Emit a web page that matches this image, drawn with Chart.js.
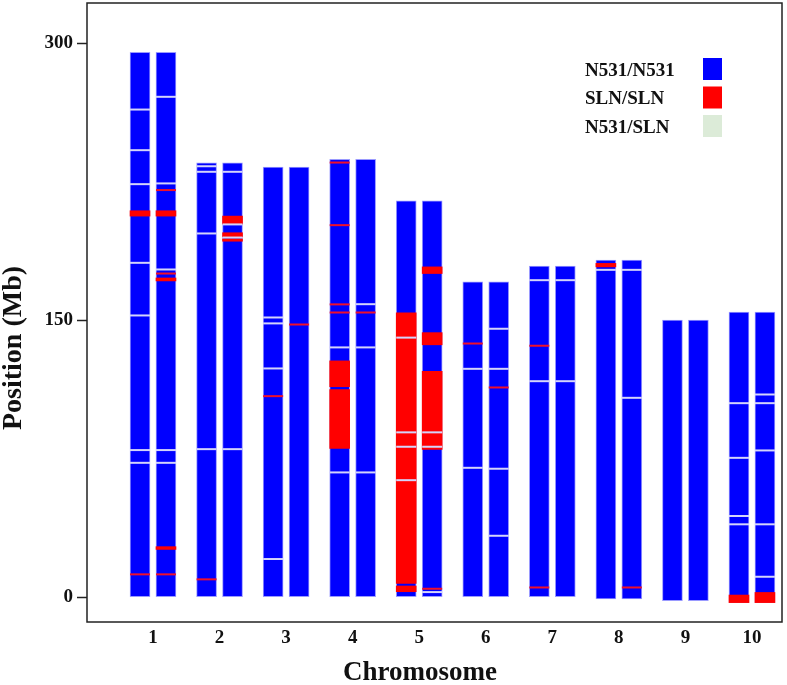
<!DOCTYPE html>
<html>
<head>
<meta charset="utf-8">
<script src="https://cdn.jsdelivr.net/npm/chart.js@4.4.1/dist/chart.umd.min.js"></script>
<style>
  body { margin: 0; background: #fff; }
</style>
</head>
<body>
<canvas id="myChart" width="787" height="685"></canvas>
<script>
// chromosome number, length (Mb) and where the drawn bar starts
const chromosomes = [1, 2, 3, 4, 5, 6, 7, 8, 9, 10];
const chrLength = [295, 235.2, 232.8, 237, 214.6, 170.7, 179.2, 182.5, 150, 154.3];
const chrStart = [0, 0, 0, 0, 0, 0, 0, -1, -2, -3];
const yTicks = [0, 150, 300];

const genotypes = ['N531/N531', 'SLN/SLN', 'N531/SLN'];
const genoColors = ['#0000ff', '#ff0000', '#dcebd8'];

// SLN/SLN blocks: [chromosome, homolog (0 = left, 1 = right), from Mb, to Mb]
const slnBlocks = [
  [1, 0, 206.3, 209.2], [1, 1, 206.3, 209.2], [1, 1, 171.2, 172.8], [1, 1, 25.8, 27.3],
  [2, 1, 202.0, 206.3], [2, 1, 195.1, 197.3], [2, 1, 192.7, 194.0],
  [4, 0, 113.9, 127.9], [4, 0, 80.5, 112.4],
  [5, 0, 7.4, 153.9], [5, 0, 2.9, 6.0],
  [5, 1, 175.2, 178.8], [5, 1, 136.6, 143.2], [5, 1, 80.0, 122.3],
  [8, 0, 178.8, 180.7],
  [10, 0, -3, 1.1], [10, 1, -3, 2.5]
];

// single-marker SLN calls (thin red lines): [chromosome, homolog, Mb]
const slnMarks = [
  [1, 0, 12.3], [1, 1, 220.4], [1, 1, 175.2], [1, 1, 12.3],
  [2, 0, 9.6],
  [3, 0, 108.8], [3, 1, 147.6],
  [4, 0, 235.3], [4, 0, 201.4], [4, 0, 158.5], [4, 0, 154.1], [4, 1, 154.1],
  [5, 1, 4.5],
  [6, 0, 137.3], [6, 1, 113.5],
  [7, 0, 5.2], [7, 0, 136.1],
  [8, 1, 5.2]
];

// segment boundaries (thin white lines): [chromosome, homolog, Mb]
const breaks = [
  [1, 0, 264.0], [1, 0, 242.0], [1, 0, 223.6], [1, 0, 181.0], [1, 0, 152.5], [1, 0, 79.6], [1, 0, 72.7],
  [1, 1, 270.9], [1, 1, 224.0], [1, 1, 177.4], [1, 1, 79.6], [1, 1, 72.7],
  [2, 0, 233.3], [2, 0, 230.3], [2, 0, 196.9], [2, 0, 80.1],
  [2, 1, 230.3], [2, 1, 201.8], [2, 1, 194.7], [2, 1, 80.1],
  [3, 0, 151.4], [3, 0, 148.2], [3, 0, 123.8], [3, 0, 20.6],
  [4, 0, 135.2], [4, 0, 67.5],
  [4, 1, 158.6], [4, 1, 135.2], [4, 1, 67.5],
  [5, 0, 140.5], [5, 0, 89.2], [5, 0, 81.4], [5, 0, 63.3],
  [5, 1, 89.2], [5, 1, 81.4], [5, 1, 2.7],
  [6, 0, 123.6], [6, 0, 70.0],
  [6, 1, 145.3], [6, 1, 123.6], [6, 1, 69.5], [6, 1, 33.2],
  [7, 0, 171.6], [7, 0, 116.9],
  [7, 1, 171.6], [7, 1, 116.9],
  [8, 0, 177.2],
  [8, 1, 177.2], [8, 1, 107.9],
  [10, 0, 105.0], [10, 0, 75.4], [10, 0, 43.9], [10, 0, 39.4],
  [10, 1, 109.7], [10, 1, 105.0], [10, 1, 79.4], [10, 1, 39.4], [10, 1, 11.0]
];

const HOM_OFFSET = 0.195;
const xOf = (chr, h) => chr + (h === 0 ? -HOM_OFFSET : HOM_OFFSET);
const serif = '"Liberation Serif", "Times New Roman", serif';

const baseData = [];
chromosomes.forEach((c, i) => {
  baseData.push({ x: xOf(c, 0), y: [chrStart[i], chrLength[i]] });
  baseData.push({ x: xOf(c, 1), y: [chrStart[i], chrLength[i]] });
});

function noPad(s) {
  s.paddingTop = 0;
  s.paddingBottom = 0;
  s.paddingLeft = 0;
  s.paddingRight = 0;
}

// frame, axis titles and legend
const decor = {
  id: 'decor',
  afterDraw(chart) {
    const c = chart.ctx;
    const a = chart.chartArea;
    c.save();
    c.strokeStyle = '#222';
    c.lineWidth = 1.5;
    c.strokeRect(a.left, a.top, a.right - a.left, a.bottom - a.top);

    c.fillStyle = '#111';
    c.textBaseline = 'middle';
    c.textAlign = 'center';
    c.font = 'bold 27px ' + serif;
    c.fillText('Chromosome', 420, 673);
    c.save();
    c.translate(14, 348);
    c.rotate(-Math.PI / 2);
    c.font = 'bold 28px ' + serif;
    c.fillText('Position (Mb)', 0, 0);
    c.restore();

    c.textAlign = 'left';
    c.font = 'bold 19px ' + serif;
    genotypes.forEach((g, i) => {
      const y = 71 + i * 28.5;
      c.fillStyle = '#111';
      c.fillText(g, 585, y);
      c.fillStyle = genoColors[i];
      c.fillRect(703, y - 13, 19, 22);
    });
    c.restore();
  }
};

const ctx = document.getElementById('myChart');
new Chart(ctx, {
  type: 'bar',
  data: {
    datasets: [
      {
        label: genotypes[0],
        data: baseData,
        backgroundColor: genoColors[0],
        borderColor: '#9a9aff',
        borderWidth: 1,
        borderSkipped: false,
        grouped: false,
        barPercentage: 1,
        categoryPercentage: 1,
        maxBarThickness: 20,
        order: 4
      },
      {
        label: genotypes[1],
        data: slnBlocks.map(b => ({ x: xOf(b[0], b[1]), y: [b[2], b[3]] })),
        backgroundColor: genoColors[1],
        borderWidth: 0,
        grouped: false,
        barPercentage: 1,
        categoryPercentage: 1,
        maxBarThickness: 20,
        order: 3
      },
      {
        type: 'scatter',
        label: 'breaks',
        data: breaks.map(m => ({ x: xOf(m[0], m[1]), y: m[2] })),
        pointStyle: 'line',
        pointRadius: 10,
        pointHoverRadius: 10,
        borderColor: '#d4d4fb',
        pointBorderColor: '#d4d4fb',
        pointBorderWidth: 2,
        borderWidth: 2,
        order: 2
      },
      {
        type: 'scatter',
        label: 'marks',
        data: slnMarks.map(m => ({ x: xOf(m[0], m[1]), y: m[2] })),
        pointStyle: 'line',
        pointRadius: 10,
        pointHoverRadius: 10,
        borderColor: '#f0102a',
        pointBorderColor: '#f0102a',
        pointBorderWidth: 2,
        borderWidth: 2,
        order: 1
      }
    ]
  },
  options: {
    responsive: false,
    animation: false,
    events: [],
    layout: { autoPadding: false, padding: { left: 0, right: 5, top: 3, bottom: 0 } },
    plugins: {
      legend: { display: false },
      tooltip: { enabled: false }
    },
    scales: {
      x: {
        type: 'linear',
        offset: false,
        min: 0.0083,
        max: 10.4513,
        afterFit: s => { s.height = 63; noPad(s); },
        afterBuildTicks: s => { s.ticks = chromosomes.map(v => ({ value: v })); },
        grid: { display: false, drawTicks: false },
        border: { display: false },
        ticks: {
          padding: 5,
          color: '#111',
          font: { family: serif, size: 19, weight: 'bold' },
          callback: v => v
        }
      },
      y: {
        min: -13.5,
        max: 321.7,
        afterFit: s => { s.width = 87; noPad(s); },
        afterBuildTicks: s => { s.ticks = yTicks.map(v => ({ value: v })); },
        grid: { drawOnChartArea: false, drawTicks: true, tickLength: 10, tickColor: '#222', tickWidth: 1.5 },
        border: { display: false },
        ticks: {
          padding: 4,
          color: '#111',
          font: { family: serif, size: 19, weight: 'bold' },
          callback: v => v
        }
      }
    }
  },
  plugins: [decor]
});
</script>
</body>
</html>
